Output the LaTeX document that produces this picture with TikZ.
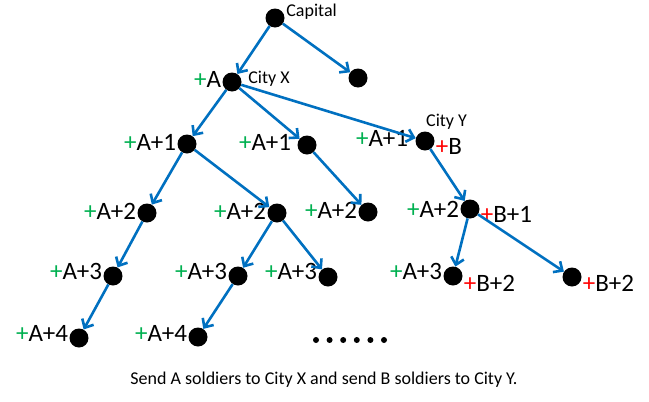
\documentclass[tikz,border=0pt]{standalone}
\usepackage{fontspec}
\setmainfont{Carlito}
\usetikzlibrary{arrows.meta}
\definecolor{edgeblue}{RGB}{0,112,192}
\definecolor{plusgreen}{RGB}{0,176,80}
\definecolor{plusred}{RGB}{255,0,0}
\newcommand{\gA}[1]{\textcolor{plusgreen}{+}#1}
\newcommand{\rB}[1]{\textcolor{plusred}{+}#1}
\tikzset{
    city/.style={circle, fill=black, inner sep=0pt, minimum size=19pt},
    troops/.style={font=\fontsize{25}{25}\selectfont, inner sep=0.5pt},
    cityname/.style={font=\fontsize{18}{18}\selectfont, inner sep=1pt},
    road/.style={draw=edgeblue, line width=2.6pt, -{Straight Barb[length=7pt,width=13pt]}}
}
\begin{document}
\begin{tikzpicture}[x=1pt, y=-1pt, label distance=0.5pt]
    \useasboundingbox (0, 0) rectangle (649, 402);
    % capital and City X
    \node[city, label={[cityname, yshift=6pt]right:Capital}] (cap) at (275, 18) {};
    \node[city] (capR) at (358, 78) {};
    \node[city, label={[troops, yshift=3pt]left:\gA{A}}, label={[cityname, yshift=3pt, xshift=5pt]right:City X}] (cityX) at (232, 82) {};
    % second level
    \node[city, label={[troops, yshift=2pt]left:\gA{A+1}}] (l1) at (187, 144) {};
    \node[city, label={[troops, yshift=3pt, xshift=-5pt]left:\gA{A+1}}] (m1) at (307, 145) {};
    \node[city, label={[troops, yshift=3pt, xshift=-6pt]left:\gA{A+1}}, label={[cityname, anchor=south west]90:City Y},
        label={[troops, yshift=-5pt]right:\rB{B}}] (cityY) at (425, 141) {};
    % third level
    \node[city, label={[troops, yshift=2pt]left:\gA{A+2}}] (l2a) at (147, 213) {};
    \node[city, label={[troops, yshift=2pt]left:\gA{A+2}}] (l2b) at (277, 213) {};
    \node[city, label={[troops, yshift=2pt]left:\gA{A+2}}] (m2) at (368, 212) {};
    \node[city, label={[troops]left:\gA{A+2}}, label={[troops, yshift=-5pt]right:\rB{B+1}}] (y2) at (470, 209) {};
    % fourth level
    \node[city, label={[troops, yshift=5pt]left:\gA{A+3}}] (l3a) at (113, 276) {};
    \node[city, label={[troops, yshift=5pt]left:\gA{A+3}}] (l3b) at (238, 276) {};
    \node[city, label={[troops, yshift=6pt]left:\gA{A+3}}] (l3c) at (328, 277) {};
    \node[city, label={[troops, yshift=5pt]left:\gA{A+3}}, label={[troops, yshift=-7pt]right:\rB{B+2}}] (y3a) at (453, 276) {};
    \node[city, label={[troops, yshift=-6pt]right:\rB{B+2}}] (y3b) at (572, 277) {};
    % fifth level
    \node[city, label={[troops, yshift=5pt]left:\gA{A+4}}] (l4a) at (79, 338) {};
    \node[city, label={[troops, yshift=4pt]left:\gA{A+4}}] (l4b) at (198, 337) {};
    % roads
    \draw[road] (cap) -- (cityX);
    \draw[road] (cap) -- (capR);
    \draw[road] (cityX) -- (l1);
    \draw[road] (cityX) -- (m1);
    \draw[road] (cityX) -- (cityY);
    \draw[road] (l1) -- (l2a);
    \draw[road] (l1) -- (l2b);
    \draw[road] (m1) -- (m2);
    \draw[road] (cityY) -- (y2);
    \draw[road] (l2a) -- (l3a);
    \draw[road] (l2b) -- (l3b);
    \draw[road] (l2b) -- (l3c);
    \draw[road] (y2) -- (y3a);
    \draw[road] (y2) -- (y3b);
    \draw[road] (l3a) -- (l4a);
    \draw[road] (l3b) -- (l4b);
    % and so on
    \foreach \i in {0,...,5}
        \fill (316 + 13.6*\i, 340) circle (3);
    \node[cityname] (note) at (324, 380) {Send A soldiers to City X and send B soldiers to City Y.};
\end{tikzpicture}
\end{document}
